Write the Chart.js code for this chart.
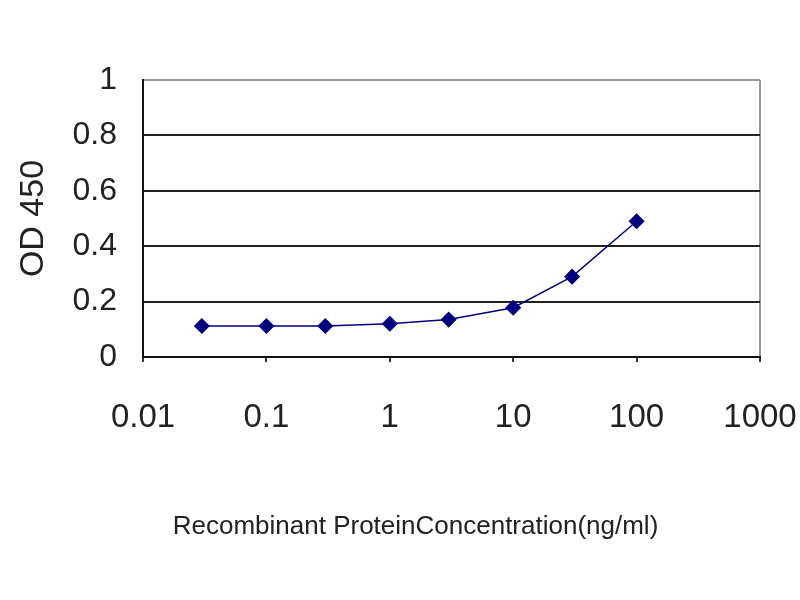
<!DOCTYPE html>
<html>
<head>
<meta charset="utf-8">
<script src="https://cdn.jsdelivr.net/npm/chart.js@4/dist/chart.umd.min.js"></script>
<style>
html,body{margin:0;padding:0;background:#fff;}
#wrap{width:800px;height:600px;}
</style>
</head>
<body>
<div id="wrap"><canvas id="c" width="800" height="600"></canvas></div>
<script>
const concentrations = [0.03, 0.1, 0.3, 1, 3, 10, 30, 100];
const odValues = [0.112, 0.112, 0.112, 0.12, 0.135, 0.178, 0.29, 0.49];
const xTickValues = [0.01, 0.1, 1, 10, 100, 1000];
const yTickValues = [0, 0.2, 0.4, 0.6, 0.8, 1];
const xTitle = 'Recombinant ProteinConcentration(ng/ml)';
const yTitle = 'OD 450';

const points = concentrations.map((x, i) => ({x: x, y: odValues[i]}));

// draws the x-axis title slightly left of the plot centre, as in the original
const xTitlePlugin = {
  id: 'xTitlePlugin',
  afterDraw(chart) {
    const ctx = chart.ctx;
    const area = chart.chartArea;
    ctx.save();
    ctx.font = '26px "Liberation Sans"';
    ctx.fillStyle = '#222';
    ctx.textAlign = 'center';
    ctx.textBaseline = 'middle';
    ctx.fillText(xTitle, (area.left + area.right) / 2 - 36, 527);
    ctx.restore();
  }
};

new Chart(document.getElementById('c'), {
  type: 'scatter',
  data: {
    datasets: [{
      data: points,
      showLine: true,
      borderColor: '#000080',
      backgroundColor: '#000080',
      borderWidth: 1.5,
      pointStyle: 'rectRot',
      pointRadius: 7,
      pointHoverRadius: 7
    }]
  },
  plugins: [xTitlePlugin],
  options: {
    responsive: false,
    animation: false,
    events: [],
    layout: {padding: {left: 0, right: 40, top: 80, bottom: 0}},
    plugins: {legend: {display: false}, tooltip: {enabled: false}},
    scales: {
      x: {
        type: 'logarithmic',
        min: 0.01,
        max: 1000,
        afterBuildTicks: s => { s.ticks = xTickValues.map(v => ({value: v})); },
        afterFit: s => { s.height = 243; s.paddingLeft = 0; s.paddingRight = 0; },
        border: {display: true, color: '#111', width: 2},
        grid: {
          drawOnChartArea: true,
          drawTicks: true,
          tickLength: 5,
          color: ctx => (ctx.tick && ctx.tick.value === 1000) ? '#999' : 'rgba(0,0,0,0)',
          tickColor: '#333',
          lineWidth: 2
        },
        ticks: {
          autoSkip: false,
          maxRotation: 0,
          padding: 36,
          color: '#222',
          font: {family: 'Liberation Sans', size: 33},
          callback: v => String(v)
        },
        title: {display: false}
      },
      y: {
        min: 0,
        max: 1,
        afterBuildTicks: s => { s.ticks = yTickValues.map(v => ({value: v})); },
        afterFit: s => { s.width = 143; },
        border: {display: true, color: '#111', width: 2},
        grid: {
          drawTicks: false,
          color: ctx => (ctx.tick && ctx.tick.value === 1) ? '#999' : '#222',
          lineWidth: 2
        },
        ticks: {
          padding: 26,
          color: '#222',
          font: {family: 'Liberation Sans', size: 32},
          callback: v => String(v)
        },
        title: {
          display: true,
          text: yTitle,
          color: '#222',
          font: {family: 'Liberation Sans', size: 34},
          padding: {top: 13, bottom: 0}
        }
      }
    }
  }
});
</script>
</body>
</html>
